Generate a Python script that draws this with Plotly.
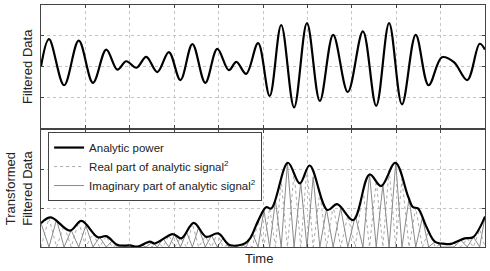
import plotly.graph_objects as go
from plotly.subplots import make_subplots

# ---- Top panel: filtered signal, extrema (time, value) ----
sig_t = [0.00, 0.18, 0.52, 0.85, 1.17, 1.47, 1.72, 1.92, 2.15, 2.37, 2.62, 2.88, 3.14, 3.41,
         3.70, 3.97, 4.23, 4.40, 4.62, 4.89, 5.15, 5.41, 5.70, 5.99, 6.28, 6.58, 6.91, 7.25,
         7.55, 7.84, 8.13, 8.44, 8.73, 9.03, 9.30, 9.60, 9.88, 10.00]
sig_v = [0.00, 0.89, -0.61, 0.84, -0.53, 0.55, -0.10, 0.17, -0.04, 0.31, -0.18, 0.47, -0.44, 0.73,
         -0.53, 0.57, -0.12, 0.15, -0.24, 0.76, -0.96, 1.35, -1.33, 1.41, -1.12, 1.03, -0.83, 1.14,
         -1.28, 1.41, -1.23, 1.03, -0.61, 0.30, 0.14, -0.44, 0.74, 0.55]

# ---- Bottom panel: analytic power envelope ----
pow_t = [0.00, 0.22, 0.65, 0.91, 1.28, 1.47, 1.73, 2.00, 2.18, 2.45, 2.56, 2.97, 3.16, 3.44,
         3.72, 3.99, 4.25, 4.59, 4.71, 4.89, 5.07, 5.19, 5.56, 5.83, 6.05, 6.45, 6.67, 7.03,
         7.40, 7.66, 7.98, 8.27, 8.38, 8.49, 8.68, 8.87, 9.09, 9.24, 9.54, 9.73, 10.00]
pow_v = [0.61, 0.76, 0.42, 0.67, 0.25, 0.28, 0.05, 0.04, 0.01, 0.14, 0.09, 0.33, 0.22, 0.62,
         0.26, 0.35, 0.05, 0.09, 0.22, 0.67, 1.02, 0.99, 2.16, 1.63, 2.09, 0.95, 1.10, 0.69,
         1.86, 1.56, 2.16, 1.29, 1.02, 0.99, 0.52, 0.14, 0.08, 0.08, 0.22, 0.25, 0.78]

# Real part squared: peaks at the signal extrema, zero at the zero crossings
real_peak_t = [0.18, 0.52, 0.85, 1.17, 1.47, 1.72, 1.92, 2.15, 2.37, 2.62, 2.88, 3.14, 3.41, 3.70,
               3.97, 4.23, 4.40, 4.62, 4.89, 5.15, 5.41, 5.70, 5.99, 6.28, 6.58, 6.91, 7.25, 7.55,
               7.84, 8.13, 8.44, 8.73, 9.03, 9.30, 9.60, 9.88]
real_peak_v = [0.74, 0.55, 0.66, 0.35, 0.28, 0.05, 0.04, 0.02, 0.12, 0.12, 0.30, 0.23, 0.60, 0.27,
               0.35, 0.06, 0.06, 0.10, 0.67, 1.00, 1.70, 1.90, 2.05, 1.40, 1.05, 0.80, 1.50, 1.70,
               2.00, 1.75, 1.00, 0.40, 0.09, 0.10, 0.22, 0.45]
# Imaginary part squared: peaks at the zero crossings, zero at the extrema
imag_peak_t = [0.00, 0.35, 0.68, 1.01, 1.32, 1.60, 1.82, 2.03, 2.26, 2.50, 2.75, 3.01, 3.28, 3.55,
               3.84, 4.10, 4.32, 4.51, 4.76, 5.02, 5.28, 5.55, 5.85, 6.13, 6.43, 6.75, 7.08, 7.40,
               7.70, 7.99, 8.29, 8.59, 8.88, 9.45, 9.74, 10.00]
imag_peak_v = [0.61, 0.70, 0.43, 0.55, 0.25, 0.15, 0.05, 0.04, 0.05, 0.12, 0.22, 0.32, 0.38, 0.50,
               0.30, 0.22, 0.05, 0.07, 0.35, 0.95, 1.20, 2.15, 1.65, 1.80, 0.97, 1.00, 0.80, 1.86,
               1.60, 2.16, 1.25, 0.75, 0.14, 0.18, 0.26, 0.78]

def merge(peak_t, peak_v, zero_t):
    pts = [(t, v) for t, v in zip(peak_t, peak_v)] + [(t, 0.0) for t in zero_t]
    pts.sort(key=lambda p: p[0])
    return [p[0] for p in pts], [p[1] for p in pts]

real_x, real_y = merge(real_peak_t, real_peak_v, imag_peak_t)
imag_x, imag_y = merge(imag_peak_t, imag_peak_v, real_peak_t)

fig = make_subplots(rows=2, cols=1, shared_xaxes=False, vertical_spacing=0.0)

fig.add_trace(go.Scatter(x=sig_t, y=sig_v, mode="lines",
                         line=dict(color="black", width=2.2, shape="spline", smoothing=1.0),
                         showlegend=False), row=1, col=1)

fig.add_trace(go.Scatter(x=real_x, y=real_y, mode="lines", name="Real part of analytic signal<sup>2</sup>",
                         line=dict(color="#aaaaaa", width=1, dash="dot"), legendrank=2), row=2, col=1)
fig.add_trace(go.Scatter(x=imag_x, y=imag_y, mode="lines", name="Imaginary part of analytic signal<sup>2</sup>",
                         line=dict(color="#8a8a8a", width=1), legendrank=3), row=2, col=1)
fig.add_trace(go.Scatter(x=pow_t, y=pow_v, mode="lines", name="Analytic power",
                         line=dict(color="black", width=2.2, shape="spline", smoothing=1.0),
                         legendrank=1), row=2, col=1)

axis_common = dict(showticklabels=False, ticks="inside", ticklen=3, tickcolor="#444",
                   showline=True, linecolor="#444", linewidth=1, mirror="ticks",
                   showgrid=True, gridcolor="#c4c4c4", griddash="dot", gridwidth=1,
                   zeroline=False)

fig.update_xaxes(range=[0, 10], dtick=1, **axis_common)
fig.update_yaxes(**axis_common)
fig.update_yaxes(range=[-2, 2], dtick=1, row=1, col=1)
fig.update_yaxes(range=[0, 3], dtick=1, row=2, col=1)

# domains: top panel 5..128 px, bottom 130..247 px of a 5..247 plot area
fig.update_layout(
    yaxis=dict(domain=[(247 - 128) / 242, 1.0]),
    yaxis2=dict(domain=[0.0, 117 / 242]),
)

fig.update_layout(
    width=490, height=271,
    margin=dict(l=41, r=5, t=5, b=24),
    paper_bgcolor="white", plot_bgcolor="white",
    font=dict(family="Liberation Sans, Arial, sans-serif", size=12, color="#222"),
    showlegend=True,
    legend=dict(x=0.016, y=0.475, xanchor="left", yanchor="top",
                bgcolor="white", bordercolor="#444", borderwidth=1,
                font=dict(size=11.5, color="#222"), tracegroupgap=0,
                itemwidth=30),
    annotations=[
        dict(text="Time", xref="paper", yref="paper", x=0.49, y=-(258 - 247) / 242,
             xanchor="center", yanchor="middle", showarrow=False, font=dict(size=13)),
        dict(text="Filtered Data", xref="paper", yref="paper", x=-0.0315,
             y=(247 - 67) / 242, xanchor="center", yanchor="middle",
             textangle=-90, showarrow=False, font=dict(size=13)),
        dict(text="Transformed<br>Filtered Data", xref="paper", yref="paper", x=-0.05,
             y=(247 - 188) / 242, xanchor="center", yanchor="middle",
             textangle=-90, showarrow=False, font=dict(size=13)),
    ],
)

fig.write_html("out.html", config={"displayModeBar": False},
               post_script="document.body.style.margin='0';document.body.style.padding='0';")
